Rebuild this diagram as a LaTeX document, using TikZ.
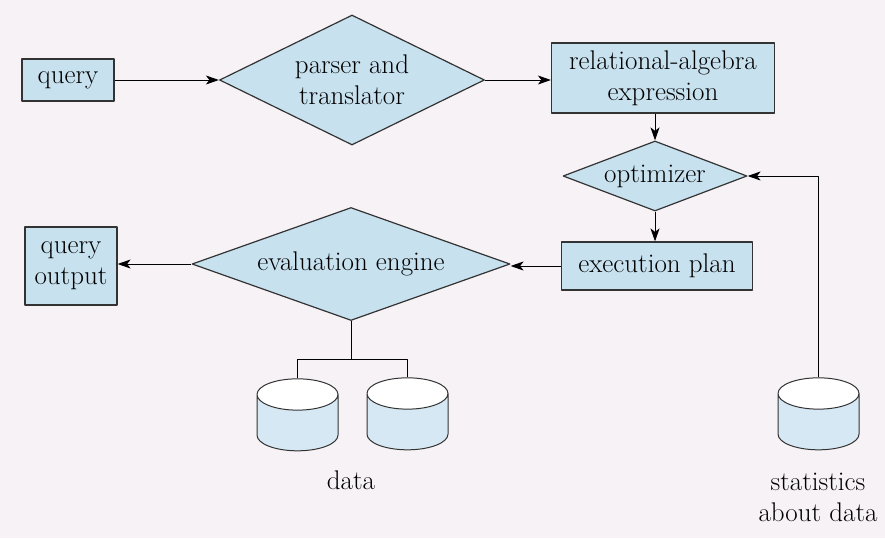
\documentclass[tikz,border=0pt]{standalone}
\usetikzlibrary{shapes.geometric,arrows.meta,positioning}
\definecolor{boxblue}{HTML}{C7E1EF}
\definecolor{bgpink}{HTML}{F7F2F5}
\tikzset{
    stagebox/.style={draw=black!80, fill=boxblue, line width=1.2pt, align=center, inner sep=0pt},
    stagediamond/.style={diamond, draw=black!80, fill=boxblue, line width=1.2pt, align=center, inner sep=0pt},
    disk/.style={cylinder, shape border rotate=90, draw=black!80, line width=1pt, cylinder uses custom fill,
        cylinder body fill=boxblue!75!white, cylinder end fill=white, minimum width=81pt, minimum height=72pt, shape aspect=4.7}
}
\begin{document}
\begin{tikzpicture}[x=1pt,y=-1pt, >={Stealth[length=13pt,width=9pt,inset=3.5pt]}, line join=round,
        font=\fontsize{27}{31}\selectfont]
            \fill[bgpink] (0,0) rectangle (885,538);
            \useasboundingbox (0,0) rectangle (885,538);
            \node[stagebox, minimum width=92pt, minimum height=42pt] (query) at (68,80) {query};
            \node[stagediamond, aspect=2.04, minimum width=265pt, minimum height=130pt] (parser) at (352,80) {parser and\\translator};
            \node[stagebox, minimum width=223pt, minimum height=70pt] (relalg) at (663,78) {relational-algebra\\expression};
            \node[stagediamond, aspect=2.63, minimum width=184pt, minimum height=70pt] (optim) at (655,176) {optimizer};
            \node[stagebox, minimum width=191pt, minimum height=48pt] (plan) at (657,266) {execution plan};
            \node[stagediamond, aspect=2.81, minimum width=318pt, minimum height=113pt] (engine) at (351,264) {evaluation engine};
            \node[stagebox, minimum width=92pt, minimum height=78pt] (output) at (71,266) {query\\output};
            \node[disk] (data1) at (297.5,426) {};
            \node[disk] (data2) at (407.5,425) {};
            \node[disk] (stats) at (818.5,425) {};
            \node (datalabel) at (351,480) {data};
            \node[align=center] (statslabel) at (818,497) {statistics\\about data};
            \draw[->, line width=1pt] (query.east) -- (parser.west);
            \draw[->, line width=1pt] (parser.east) -- (parser.east -| relalg.west);
            \draw[->, line width=1pt] (relalg.south -| optim.north) -- (optim.north);
            \draw[->, line width=1pt] (optim.south) -- (optim.south |- plan.north);
            \draw[->, line width=1pt] (plan.west) -- (plan.west -| engine.east);
            \draw[->, line width=1pt] (engine.west) -- (engine.west -| output.east);
            \draw[line width=1pt] (engine.south) -- ++(0,38) coordinate (fork);
            \draw[line width=1pt] (data1.top) |- (fork) -| (data2.top);
            \draw[->, line width=1pt] (stats.top) |- (optim.east);
        \end{tikzpicture}
\end{document}
